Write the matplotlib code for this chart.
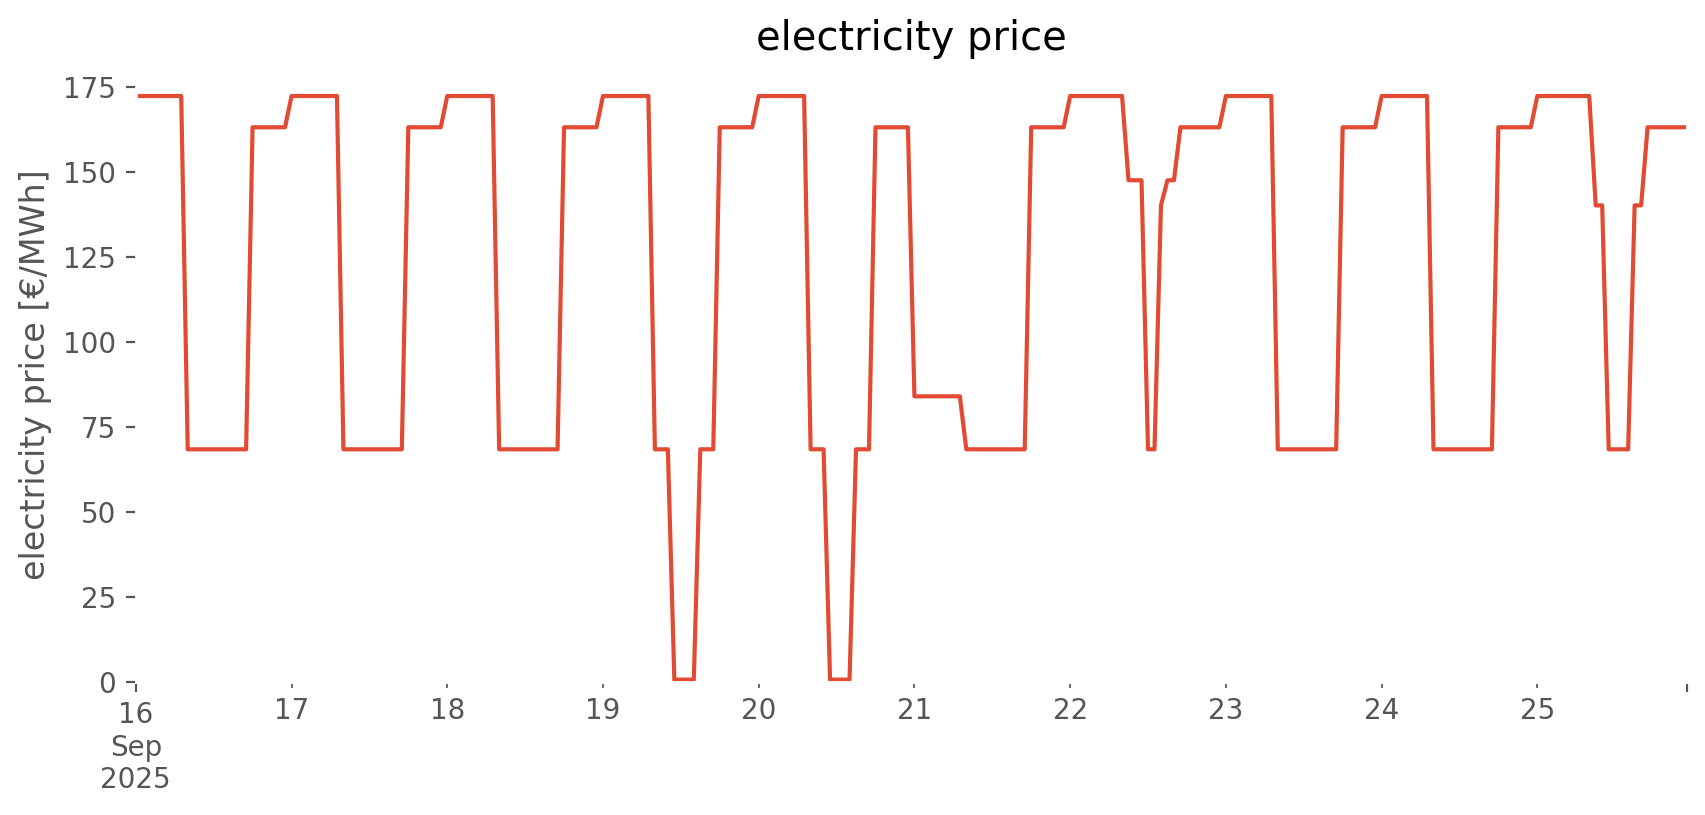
import matplotlib
matplotlib.use("Agg")
import matplotlib.pyplot as plt
import pandas as pd

# hourly day-ahead price, 16-25 Sep 2025 [EUR/MWh]
HI = 172.4
EVE = 163.2
LOW = 68.4
NEAR0 = 0.6

sep16 = [HI] * 8 + [LOW] * 10 + [EVE] * 6
sep17 = [HI] * 8 + [LOW] * 10 + [EVE] * 6
sep18 = [HI] * 8 + [LOW] * 10 + [EVE] * 6
sep19 = [HI] * 8 + [LOW] * 3 + [NEAR0] * 4 + [LOW] * 3 + [EVE] * 6
sep20 = [HI] * 8 + [LOW] * 3 + [NEAR0] * 4 + [LOW] * 3 + [EVE] * 6
sep21 = [84.0] * 8 + [LOW] * 10 + [EVE] * 6
sep22 = [HI] * 9 + [147.6] * 3 + [LOW] * 2 + [140.2] + [147.6] * 2 + [EVE] * 7
sep23 = [HI] * 8 + [LOW] * 10 + [EVE] * 6
sep24 = [HI] * 8 + [LOW] * 10 + [EVE] * 6
sep25 = [HI] * 9 + [140.2] * 2 + [LOW] * 4 + [140.2] * 2 + [EVE] * 7

days = [sep16, sep17, sep18, sep19, sep20, sep21, sep22, sep23, sep24, sep25]
prices = [v for d in days for v in d]
index = pd.date_range("2025-09-16 00:00", periods=len(prices), freq="h")
price = pd.Series(prices, index=index)

plt.style.use("ggplot")

fig = plt.figure(figsize=(8.53, 4.075), dpi=200)
ax = fig.add_axes([0.0796, 0.1636, 0.909, 0.7544])
price.plot(ax=ax)
ax.set_facecolor("white")
ax.grid(False)
ax.set_ylim(bottom=0)
ax.set_xlabel("")
ax.set_ylabel("electricity price [€/MWh]")
ax.set_title("electricity price")

fig.savefig("out.png", dpi=200)
